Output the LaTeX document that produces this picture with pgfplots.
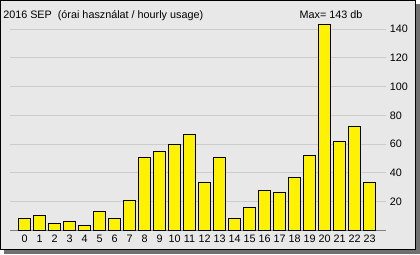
\documentclass[border=0pt]{standalone}
\usepackage{pgfplots}
\pgfplotsset{compat=1.18}
\usepackage{fontspec}
\setmainfont{Liberation Sans}
\definecolor{bgc}{RGB}{232,232,232}
\definecolor{gridc}{RGB}{204,204,204}
\definecolor{shadowc}{RGB}{112,112,112}
\definecolor{axc}{RGB}{128,128,128}
\begin{document}
\fontsize{8.1pt}{9.7pt}\selectfont
\begin{tikzpicture}[x=0.75pt,y=0.75pt]
% shadow and frame
\fill[shadowc] (4,0) rectangle (420,250);
\fill[bgc] (0,4) rectangle (416,254);
\draw[black,line width=1.1pt] (0.75,4.75) rectangle (415.25,253.25);
\begin{axis}[
  at={(7.5pt,17.775pt)}, anchor=south west,
  scale only axis,
  width=282pt, height=161.66pt,
  xmin=-0.97, xmax=24.1,
  ymin=0, ymax=150,
  axis x line*=bottom, axis y line*=right,
  y axis line style={draw=none},
  x axis line style={draw=axc, line width=0.75pt},
  xtick={0,...,23},
  ytick={20,40,...,140},
  major tick length=0pt,
  ymajorgrids,
  grid style={draw=gridc, line width=0.75pt},
  yticklabel pos=right,
  tick label style={font=\fontsize{8.1pt}{9.7pt}\selectfont},
  /pgf/number format/assume math mode=true,
  xticklabel style={yshift=-0.5pt},
  ybar, bar width=8.5pt,
  clip=false,
]
\addplot[fill=yellow, draw=black, line width=0.75pt] coordinates {
(0,8) (1,10) (2,5) (3,6) (4,3) (5,13) (6,8) (7,21) (8,51) (9,55)
(10,60) (11,67) (12,33) (13,51) (14,8) (15,16) (16,28) (17,26)
(18,37) (19,52) (20,143) (21,62) (22,72) (23,33)
};
\end{axis}
\node[anchor=base west, inner sep=0pt] at (3,235.7) {2016 SEP\ \ (órai használat / hourly usage)};
\node[anchor=base east, inner sep=0pt] at (362.7,235.7) {Max= 143 db};
\end{tikzpicture}
\end{document}
